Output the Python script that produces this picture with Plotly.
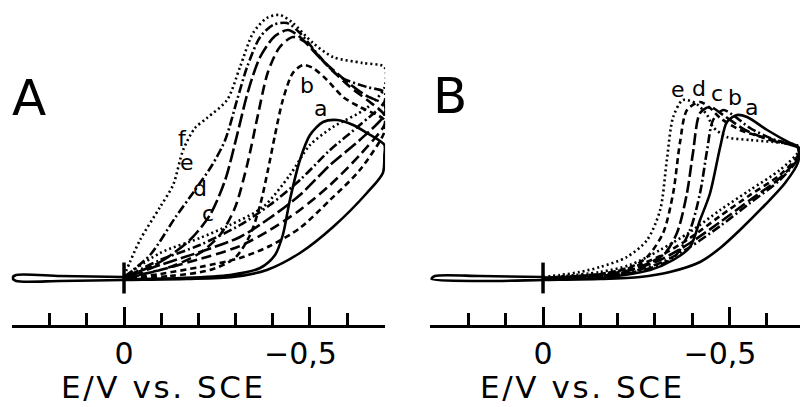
import plotly.graph_objects as go

# ---------------------------------------------------------------
# Cyclic voltammograms, potential E (V vs. SCE) and current I (uA)
# Each curve: forward sweep to the switching potential, then back.
# ---------------------------------------------------------------

# Panel A, curves a-f
A_a_E = [0, -0.151, -0.285, -0.366, -0.406, -0.427, -0.446, -0.473, -0.500, -0.535, -0.573, -0.616, -0.653, -0.700,
         -0.700, -0.696, -0.653, -0.562, -0.473, -0.384, -0.293, -0.169, 0, 0.172, 0.290, 0.300, 0.290, 0.172, 0]
A_a_I = [-0.1, 0.0, 0.3, 1.0, 2.3, 4.3, 7.8, 11.8, 14.3, 15.6, 15.8, 15.3, 14.5, 13.3,
         12.3, 10.5, 8.5, 5.1, 2.5, 0.8, 0.1, -0.1, -0.2, -0.3, -0.3, 0.0, 0.3, 0.2, 0.1]

A_b_E = [0, -0.124, -0.231, -0.298, -0.339, -0.366, -0.387, -0.406, -0.427, -0.454, -0.481, -0.508, -0.546, -0.589, -0.634, -0.700,
         -0.700, -0.634, -0.554, -0.473, -0.392, -0.312, -0.204, -0.097, 0]
A_b_I = [-0.1, 0.2, 0.8, 2.0, 4.3, 7.3, 10.8, 14.3, 17.8, 20.5, 21.3, 21.0, 19.8, 18.1, 17.1, 15.8,
         14.6, 10.8, 7.8, 5.0, 3.2, 2.0, 1.1, 0.4, -0.1]

A_c_E = [0, -0.124, -0.204, -0.258, -0.298, -0.331, -0.360, -0.387, -0.419, -0.454, -0.487, -0.540, -0.608, -0.661, -0.700,
         -0.700, -0.634, -0.554, -0.473, -0.392, -0.312, -0.204, -0.097, 0]
A_c_I = [0.0, 1.1, 2.5, 4.3, 7.0, 11.3, 16.3, 20.6, 23.1, 24.1, 23.6, 21.5, 19.1, 17.6, 16.3,
         15.3, 12.3, 9.3, 6.8, 4.8, 3.2, 1.9, 0.8, -0.1]

A_d_E = [0, -0.097, -0.177, -0.231, -0.272, -0.304, -0.333, -0.366, -0.406, -0.441, -0.473, -0.527, -0.594, -0.648, -0.700,
         -0.700, -0.634, -0.554, -0.473, -0.392, -0.312, -0.204, -0.097, 0]
A_d_I = [0.0, 1.6, 3.8, 6.3, 9.8, 14.3, 18.6, 22.1, 24.2, 24.8, 24.1, 22.0, 19.8, 18.3, 17.3,
         16.3, 13.8, 11.3, 8.3, 6.0, 4.1, 2.6, 1.3, 0.0]

A_e_E = [0, -0.070, -0.137, -0.191, -0.237, -0.272, -0.304, -0.331, -0.366, -0.401, -0.438, -0.473, -0.527, -0.581, -0.653, -0.700,
         -0.700, -0.634, -0.554, -0.473, -0.392, -0.312, -0.204, -0.097, 0]
A_e_I = [0.1, 2.3, 6.0, 8.8, 11.3, 13.8, 17.8, 21.1, 24.1, 25.3, 25.5, 24.5, 22.1, 20.1, 19.1, 18.6,
         17.6, 15.3, 12.8, 9.8, 7.3, 5.3, 3.3, 1.8, 0.0]

A_f_E = [0, -0.016, -0.043, -0.097, -0.132, -0.159, -0.191, -0.223, -0.277, -0.312, -0.347, -0.384, -0.419, -0.454, -0.508, -0.562, -0.642, -0.700,
         -0.700, -0.653, -0.562, -0.500, -0.446, -0.374, -0.285, -0.204, -0.097, 0]
A_f_I = [0.2, 1.6, 3.8, 7.1, 9.3, 12.8, 15.0, 16.0, 17.8, 21.1, 24.5, 26.0, 26.3, 25.5, 23.5, 22.1, 21.5, 21.1,
         19.0, 17.0, 15.1, 13.3, 10.3, 7.1, 5.3, 4.0, 2.5, 0.1]

# Panel B, curves a-e
B_a_E = [0, -0.153, -0.287, -0.349, -0.394, -0.421, -0.448, -0.475, -0.493, -0.520, -0.547, -0.601, -0.662, -0.684,
         -0.684, -0.649, -0.595, -0.528, -0.475, -0.421, -0.340, -0.260, -0.153, 0, 0.169, 0.300, 0.290, 0.169, 0]
B_a_I = [-0.1, 0.0, 0.8, 1.8, 3.1, 5.8, 8.5, 13.1, 15.6, 16.3, 16.1, 14.8, 13.5, 13.1,
         11.6, 9.5, 7.3, 4.8, 3.0, 1.6, 0.6, 0.1, -0.1, -0.2, -0.3, -0.1, 0.2, 0.2, 0.1]

B_b_E = [0, -0.233, -0.349, -0.394, -0.421, -0.440, -0.456, -0.483, -0.509, -0.555, -0.622, -0.684,
         -0.684, -0.635, -0.555, -0.475, -0.394, -0.314, -0.233, -0.153, 0]
B_b_I = [0.0, 0.5, 2.0, 4.8, 8.5, 12.8, 15.8, 16.8, 16.3, 15.0, 13.8, 13.0,
         12.0, 9.8, 7.5, 5.2, 3.1, 1.5, 0.6, 0.2, -0.1]

B_c_E = [0, -0.206, -0.322, -0.359, -0.386, -0.402, -0.421, -0.448, -0.483, -0.542, -0.609, -0.684,
         -0.684, -0.635, -0.555, -0.475, -0.394, -0.314, -0.233, -0.153, 0]
B_c_I = [0.0, 0.5, 2.3, 4.5, 8.5, 12.5, 16.5, 17.1, 16.3, 14.8, 13.8, 13.0,
         12.1, 10.0, 7.8, 5.6, 3.5, 1.8, 0.8, 0.3, -0.1]

B_d_E = [0, -0.153, -0.241, -0.279, -0.322, -0.349, -0.367, -0.386, -0.421, -0.448, -0.475, -0.528, -0.595, -0.684,
         -0.684, -0.635, -0.555, -0.475, -0.394, -0.314, -0.233, -0.153, 0]
B_d_I = [0.0, 0.4, 1.2, 2.1, 4.5, 8.5, 13.5, 16.8, 17.6, 17.0, 16.0, 14.8, 14.0, 13.1,
         12.3, 10.3, 8.3, 6.2, 4.0, 2.2, 1.0, 0.4, 0.0]

B_e_E = [0, -0.046, -0.099, -0.153, -0.225, -0.279, -0.314, -0.332, -0.349, -0.375, -0.408, -0.440, -0.456, -0.493, -0.555, -0.617, -0.684,
         -0.684, -0.635, -0.555, -0.475, -0.394, -0.314, -0.233, -0.153, 0]
B_e_I = [0.1, 0.3, 0.6, 1.1, 2.1, 3.8, 6.8, 11.8, 16.1, 17.8, 17.5, 16.3, 15.1, 14.1, 13.8, 13.6, 13.2,
         12.6, 10.8, 8.8, 6.8, 4.6, 2.8, 1.3, 0.6, 0.0]

# Curve label positions (E, I)
A_LABELS = ["a", "b", "c", "d", "e", "f"]
A_LABEL_E = [-0.527, -0.492, -0.226, -0.204, -0.169, -0.156]
A_LABEL_I = [17.0, 19.3, 6.5, 9.0, 11.6, 14.0]

B_LABELS = ["a", "b", "c", "d", "e"]
B_LABEL_E = [-0.560, -0.515, -0.466, -0.418, -0.362]
B_LABEL_I = [17.1, 18.1, 18.5, 19.0, 18.9]

# Axis ticks
TICK_VALS = [0, -0.5]
TICK_TEXT = ["0", "\u22120,5\u2007"]
MINOR_TICK_VALS = [0.3, 0.2, 0.1, -0.1, -0.2, -0.3, -0.4, -0.6, -0.7]
AXIS_TITLE = "E/V vs. SCE"

FONT = "DejaVu Sans"
INK = "black"
LW = 2.6

A_DASH = ["solid", "6px,4px", "10px,5px", "14px,4px", "9px,3px,2px,3px", "2px,3px"]
B_DASH = ["solid", "9px,3px,2px,3px", "12px,4px", "6px,4px", "2px,3px"]

A_CURVES = [(A_a_E, A_a_I), (A_b_E, A_b_I), (A_c_E, A_c_I), (A_d_E, A_d_I), (A_e_E, A_e_I), (A_f_E, A_f_I)]
B_CURVES = [(B_a_E, B_a_I), (B_b_E, B_b_I), (B_c_E, B_c_I), (B_d_E, B_d_I), (B_e_E, B_e_I)]

fig = go.Figure()

for (E, I), dash, name in zip(A_CURVES, A_DASH, A_LABELS):
    fig.add_trace(go.Scatter(x=E, y=I, mode="lines", name=name, xaxis="x", yaxis="y",
                             line=dict(color=INK, width=LW, dash=dash, shape="spline", smoothing=0.8)))
for (E, I), dash, name in zip(B_CURVES, B_DASH, B_LABELS):
    fig.add_trace(go.Scatter(x=E, y=I, mode="lines", name=name, xaxis="x2", yaxis="y",
                             line=dict(color=INK, width=LW, dash=dash, shape="spline", smoothing=0.8)))

# starting-potential marks at E = 0
for xa in ["x", "x2"]:
    fig.add_trace(go.Scatter(x=[0], y=[0], mode="markers", xaxis=xa, yaxis="y",
                             marker=dict(symbol="line-ns", size=22, line=dict(color=INK, width=3.5))))

annotations = []
for lab, e, i in zip(A_LABELS, A_LABEL_E, A_LABEL_I):
    annotations.append(dict(x=e, y=i, xref="x", yref="y", text=lab, showarrow=False,
                            font=dict(family=FONT, size=22, color=INK)))
for lab, e, i in zip(B_LABELS, B_LABEL_E, B_LABEL_I):
    annotations.append(dict(x=e, y=i, xref="x2", yref="y", text=lab, showarrow=False,
                            font=dict(family=FONT, size=22, color=INK)))

# panel letters
annotations.append(dict(x=0.255, y=18.0, xref="x", yref="y", text="A", showarrow=False,
                        font=dict(family=FONT, size=50, color=INK)))
annotations.append(dict(x=0.249, y=18.2, xref="x2", yref="y", text="B", showarrow=False,
                        font=dict(family=FONT, size=50, color=INK)))

# axis titles, below the tick labels
for xa in ["x", "x2"]:
    annotations.append(dict(x=-0.105, y=-0.2485, xref=xa, yref="paper",
                            text='<span style="letter-spacing:2.6px">' + AXIS_TITLE + "</span>",
                            showarrow=False, yanchor="bottom", borderpad=0,
                            font=dict(family=FONT, size=31, color=INK)))

axis_common = dict(
    tickmode="array", tickvals=TICK_VALS, ticktext=TICK_TEXT,
    ticks="inside", ticklen=18, tickwidth=2.5, tickcolor=INK,
    minor=dict(tickmode="array", tickvals=MINOR_TICK_VALS, ticks="inside", ticklen=12,
               tickwidth=2.5, tickcolor=INK),
    showline=True, linewidth=2.8, linecolor=INK,
    showgrid=False, zeroline=False,
    tickfont=dict(family=FONT, size=30, color=INK),
    ticklabelstandoff=0,
    anchor="y",
)

fig.update_layout(
    width=800, height=407,
    margin=dict(l=0, r=0, t=0, b=82),
    paper_bgcolor="white", plot_bgcolor="white",
    showlegend=False,
    xaxis=dict(domain=[11.7 / 800, 385.1 / 800], range=[0.302, -0.702], **axis_common),
    xaxis2=dict(domain=[430.4 / 800, 1.0], range=[0.302, -0.689], **axis_common),
    yaxis=dict(range=[-4.7, 27.8], visible=False, domain=[0, 1]),
    annotations=annotations,
)

fig.write_html("out.html")
